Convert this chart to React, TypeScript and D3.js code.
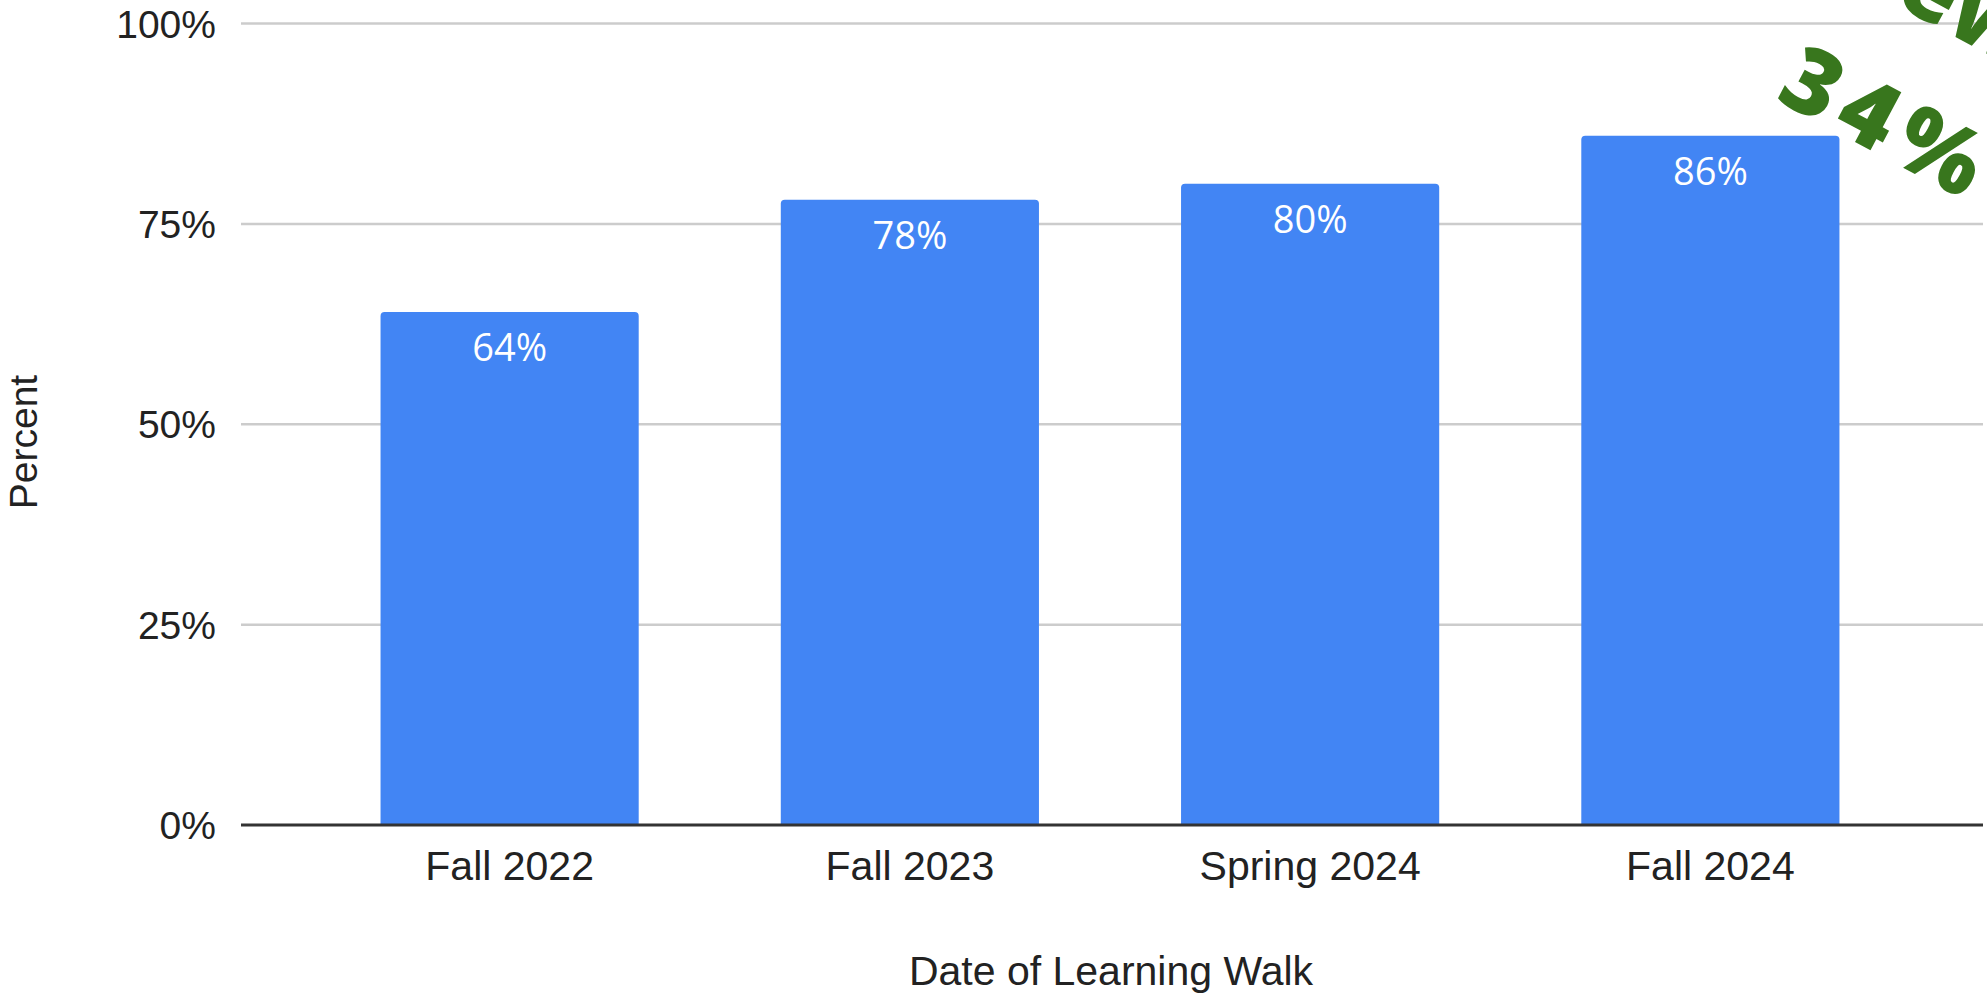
import React from "react";
import * as d3 from "d3";

const categories = ["Fall 2022", "Fall 2023", "Spring 2024", "Fall 2024"];
const values = [64, 78, 80, 86];
const yTicks = [0, 25, 50, 75, 100];
const xTitle = "Date of Learning Walk";
const yTitle = "Percent";
const calloutLines = ["Grew", "34%"];

const W = 1987;
const H = 994;

export default function App() {
  const x = d3
    .scaleBand<string>()
    .domain(categories)
    .range([309.5, 1910.5])
    .paddingInner(0.355)
    .paddingOuter(0.1775);
  const y = d3.scaleLinear().domain([0, 100]).range([825, 23.5]);
  const gridX0 = 241;
  const gridX1 = 1983;
  const r = 4;

  const barPath = (cx: number, w: number, top: number, bottom: number) => {
    const p = d3.path();
    p.moveTo(cx, bottom);
    p.lineTo(cx, top + r);
    p.quadraticCurveTo(cx, top, cx + r, top);
    p.lineTo(cx + w - r, top);
    p.quadraticCurveTo(cx + w, top, cx + w, top + r);
    p.lineTo(cx + w, bottom);
    p.closePath();
    return p.toString();
  };

  const angle = 28;
  const rad = (angle * Math.PI) / 180;
  const ox = 1774;
  const oy = 99;
  const lineGap = 140;
  const line1x = ox + lineGap * Math.sin(rad);
  const line1y = oy - lineGap * Math.cos(rad);

  return (
    <svg
      width={W}
      height={H}
      style={{ position: "absolute", left: 0, top: 0, background: "#fff" }}
    >
      {yTicks.map((t) =>
        t === 0 ? null : (
          <line
            key={"g" + t}
            x1={gridX0}
            x2={gridX1}
            y1={y(t)}
            y2={y(t)}
            stroke="#cccccc"
            strokeWidth={2.5}
          />
        )
      )}
      {yTicks.map((t) => (
        <text
          key={"t" + t}
          x={216}
          y={y(t) + 14}
          textAnchor="end"
          fontFamily="'Liberation Sans', Arial, sans-serif"
          fontSize={39}
          fill="#222"
        >
          {t}%
        </text>
      ))}
      {categories.map((c, i) => {
        const bx = x(c)!;
        const bw = x.bandwidth();
        const top = y(values[i]);
        return (
          <g key={c}>
            <path d={barPath(bx, bw, top, y(0))} fill="#4285f4" />
            <text
              x={bx + bw / 2}
              y={top + 49}
              textAnchor="middle"
              fontFamily="'Open Sans', sans-serif"
              fontSize={38}
              fill="#ffffff"
            >
              {values[i]}%
            </text>
            <text
              x={bx + bw / 2}
              y={880}
              textAnchor="middle"
              fontFamily="'Liberation Sans', Arial, sans-serif"
              fontSize={41}
              fill="#222"
            >
              {c}
            </text>
          </g>
        );
      })}
      <line
        x1={gridX0}
        x2={gridX1}
        y1={y(0)}
        y2={y(0)}
        stroke="#333"
        strokeWidth={3}
      />
      <text
        x={1111}
        y={985}
        textAnchor="middle"
        fontFamily="'Liberation Sans', Arial, sans-serif"
        fontSize={41}
        fill="#222"
      >
        {xTitle}
      </text>
      <text
        transform={`translate(37,442) rotate(-90)`}
        textAnchor="middle"
        fontFamily="'Liberation Sans', Arial, sans-serif"
        fontSize={39}
        fill="#222"
      >
        {yTitle}
      </text>
      <g fontFamily="'Open Sans', Lato, sans-serif" fontWeight={800} fill="#38761d">
        <text
          transform={`translate(${line1x},${line1y}) rotate(${angle})`}
          x={200}
          textAnchor="end"
          fontSize={92}
        >
          {calloutLines[0]}
        </text>
        <text
          transform={`translate(${ox},${oy}) rotate(${angle})`}
          fontSize={92}
          letterSpacing={10}
        >
          {calloutLines[1]}
        </text>
      </g>
    </svg>
  );
}
